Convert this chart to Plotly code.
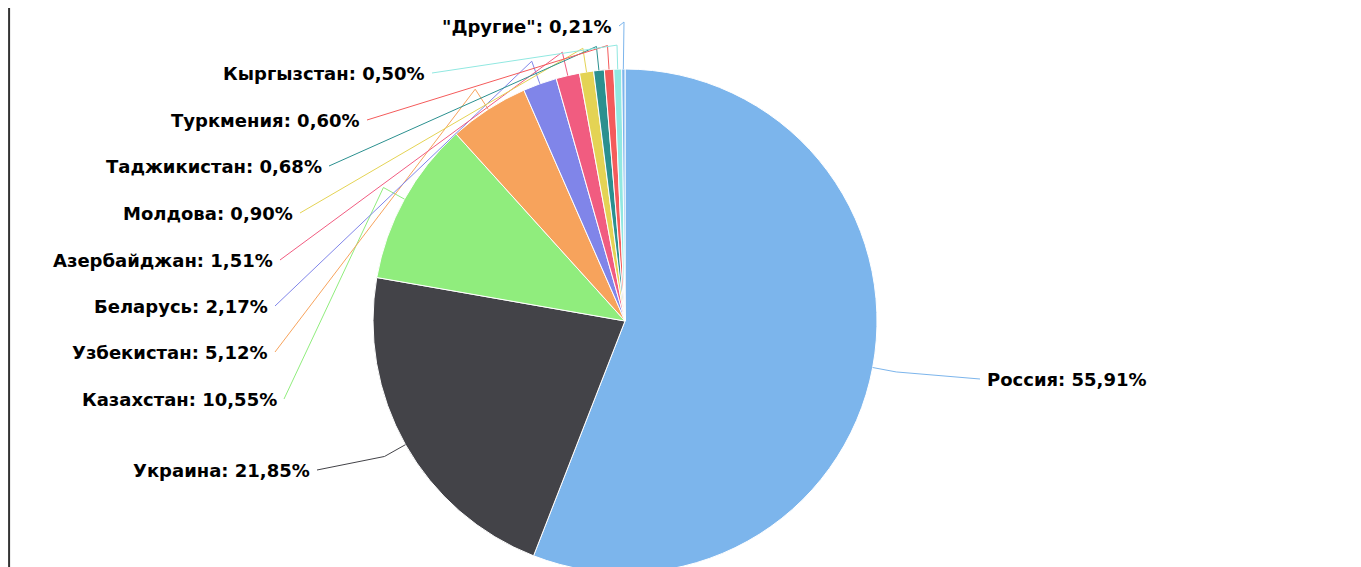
import math
import plotly.graph_objects as go

countries = ["Россия", "Украина", "Казахстан", "Узбекистан", "Беларусь", "Азербайджан",
             "Молдова", "Таджикистан", "Туркмения", "Кыргызстан", "\"Другие\""]
shares = [55.91, 21.85, 10.55, 5.12, 2.17, 1.51, 0.90, 0.68, 0.60, 0.50, 0.21]
colors = ["#7cb5ec", "#434348", "#90ed7d", "#f7a35c", "#8085e9", "#f15c80",
          "#e4d354", "#2b908f", "#f45b5b", "#91e8e1", "#7cb5ec"]
label_texts = [f"{c}: {v:.2f}%".replace(".", ",") for c, v in zip(countries, shares)]

W, H = 1361, 567
OFF = 8  # page body margin
CX, CY, R = 625, 321, 252

# label anchor positions (screen pixel), side the connector attaches to
label_pos = [(985, 379, "left"), (312, 470, "right"), (279, 399, "right"),
             (270, 352, "right"), (270, 306, "right"), (275, 260, "right"),
             (295, 213, "right"), (324, 166, "right"), (362, 120, "right"),
             (427, 73, "right"), (614, 26, "right")]


def px(x):
    return (x - OFF) / W


def py(y):
    return (H - (y - OFF)) / H


fig = go.Figure(go.Pie(
    labels=countries, values=shares, sort=False, direction="clockwise", rotation=0,
    marker=dict(colors=colors, line=dict(color="white", width=1)),
    textinfo="none", hoverinfo="label+percent",
    domain=dict(x=[px(CX - R), px(CX + R)], y=[max(0, py(CY + R)), py(CY - R)]),
    showlegend=False,
))

shapes = [dict(type="line", xref="paper", yref="paper", x0=0.0008, x1=0.0008, y0=0, y1=1,
               line=dict(color="#333333", width=2))]
annotations = []
total = sum(shares)
cum = 0.0
for i, v in enumerate(shares):
    mid = (cum + v / 2) / total * 2 * math.pi
    cum += v
    ex, ey = CX + R * math.sin(mid), CY - R * math.cos(mid)
    bx, by = CX + (R + 24) * math.sin(mid), CY - (R + 24) * math.cos(mid)
    lx, ly, side = label_pos[i]
    if i == len(shares) - 1:
        bx, by = lx + 10, ly - 4
    sx = lx + 5 if side == "right" else lx - 5
    path = f"M {px(sx)} {py(ly)} L {px(bx)} {py(by)} L {px(ex)} {py(ey)}"
    shapes.append(dict(type="path", xref="paper", yref="paper", path=path,
                       line=dict(color=colors[i], width=1)))
    annotations.append(dict(x=px(lx), y=py(ly), xref="paper", yref="paper",
                            text=f"<b>{label_texts[i]}</b>", showarrow=False,
                            xanchor=side, yanchor="middle",
                            font=dict(family="DejaVu Sans", size=18, color="#000000")))

fig.update_layout(width=W, height=H, margin=dict(l=0, r=0, t=0, b=0),
                  paper_bgcolor="white", plot_bgcolor="white",
                  shapes=shapes, annotations=annotations)
fig.write_html("out.html")
